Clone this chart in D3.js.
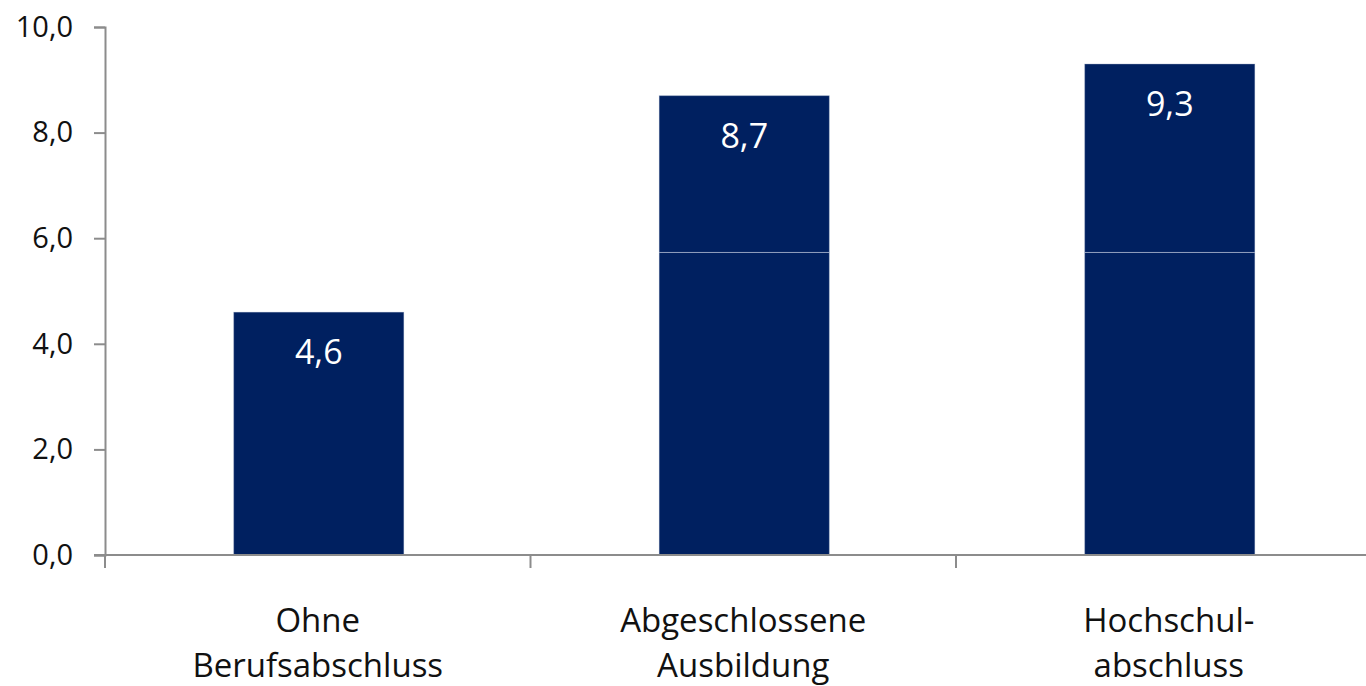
<!DOCTYPE html>
<html lang="de">
<head>
<meta charset="UTF-8">
<script src="https://d3js.org/d3.v7.min.js"></script>
<style>
  body { margin: 0; background: #fff; }
  svg { display: block; font-family: "Open Sans", Lato, sans-serif; }
  .axis path, .axis line { stroke: #8c8c8c; stroke-width: 2px; }
  .axis text { font-family: "Open Sans", Lato, sans-serif; }
</style>
</head>
<body>
<svg width="1366" height="686"></svg>
<script>
// chart data
var categories = [["Ohne", "Berufsabschluss"], ["Abgeschlossene", "Ausbildung"], ["Hochschul-", "abschluss"]];
var values = [4.6, 8.7, 9.3];
var seams = [null, 5.73, 5.73];   // faint split line visible in bars 2 and 3
var yTicks = [0, 2, 4, 6, 8, 10];

var svg = d3.select("svg");
var mLeft = 105, mRight = 1381.5, mTop = 27, mBottom = 555;

var x = d3.scaleBand().domain(d3.range(values.length)).range([mLeft, mRight]).padding(0);
var y = d3.scaleLinear().domain([0, 10]).range([mBottom, mTop]);
var fmt = function(v) { return d3.format(".1f")(v).replace(".", ","); };

// bars
var bw = x.bandwidth() * 0.4;
var bx = function(i) { return x(i) + (x.bandwidth() - bw) / 2 + 1; };
svg.selectAll("rect.bar").data(values).enter().append("rect")
  .attr("class", "bar")
  .attr("x", function(d, i) { return bx(i); })
  .attr("y", function(d) { return y(d); })
  .attr("width", bw)
  .attr("height", function(d) { return y(0) - y(d); })
  .attr("fill", "#002060")
  .attr("stroke", "#c4cde0")
  .attr("stroke-opacity", 0.35)
  .attr("stroke-width", 1);

svg.selectAll("line.seam").data(seams.map(function(s, i) { return [s, i]; }).filter(function(d) { return d[0] != null; }))
  .enter().append("line")
  .attr("class", "seam")
  .attr("x1", function(d) { return bx(d[1]); })
  .attr("x2", function(d) { return bx(d[1]) + bw; })
  .attr("y1", function(d) { return y(d[0]); })
  .attr("y2", function(d) { return y(d[0]); })
  .attr("stroke", "#b8c2d8")
  .attr("stroke-opacity", 0.8)
  .attr("stroke-width", 1);

// value labels inside the bars
svg.selectAll("text.val").data(values).enter().append("text")
  .attr("class", "val")
  .attr("x", function(d, i) { return x(i) + x.bandwidth() / 2 + 1; })
  .attr("y", function(d) { return y(d) + 52; })
  .attr("text-anchor", "middle")
  .attr("fill", "#fff")
  .style("font-size", "34px")
  .text(fmt);

// y axis
var yAxis = svg.append("g").attr("class", "axis")
  .attr("transform", "translate(" + mLeft + ",0)")
  .call(d3.axisLeft(y).tickValues(yTicks).tickFormat(fmt).tickSize(11).tickSizeOuter(11).tickPadding(21));
yAxis.attr("font-family", null);
yAxis.selectAll("text").style("font-size", "29px").attr("fill", "#111");

// x axis line + ticks at band boundaries
var xg = svg.append("g").attr("class", "axis");
xg.append("line").attr("x1", mLeft - 11).attr("x2", 1366).attr("y1", mBottom).attr("y2", mBottom);
xg.selectAll("line.tk").data(d3.range(values.length + 1)).enter().append("line")
  .attr("class", "tk")
  .attr("x1", function(i) { return mLeft + i * x.step(); })
  .attr("x2", function(i) { return mLeft + i * x.step(); })
  .attr("y1", mBottom).attr("y2", mBottom + 13);

// category labels
var cat = svg.selectAll("text.cat").data(categories).enter().append("text")
  .attr("class", "cat")
  .attr("text-anchor", "middle")
  .attr("fill", "#111")
  .style("font-size", "33px");
cat.selectAll("tspan").data(function(d, i) { return d.map(function(s) { return [s, i]; }); })
  .enter().append("tspan")
  .attr("x", function(d) { return x(d[1]) + x.bandwidth() / 2; })
  .attr("y", function(d, j) { return 632 + j * 45; })
  .text(function(d) { return d[0]; });
</script>
</body>
</html>
